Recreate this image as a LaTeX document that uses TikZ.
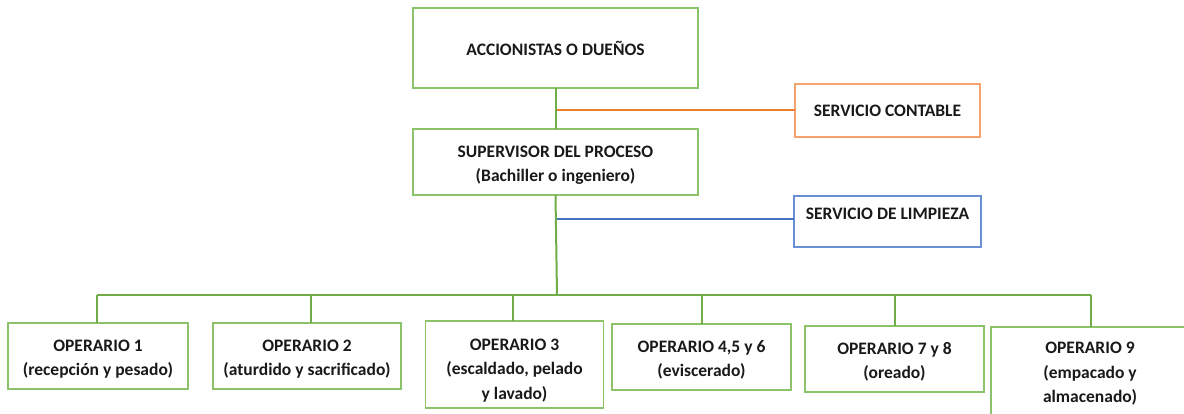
\documentclass[tikz,border=0pt]{standalone}
\usepackage{fontspec}
\setmainfont{Carlito}
\definecolor{cgreen}{HTML}{70AD47}
\definecolor{bgreen}{HTML}{8CC26A}
\definecolor{corange}{HTML}{ED7D31}
\definecolor{borange}{HTML}{F4A36E}
\definecolor{cblue}{HTML}{4472C4}
\definecolor{bblue}{HTML}{6A8FD4}
\tikzset{
  box/.style={draw=bgreen, line width=1.3pt, inner sep=0pt, outer sep=0pt},
  txt/.style={inner sep=0pt, align=center, font=\fontsize{17.5}{24.5}\selectfont\bfseries, text=black!90},
  conn/.style={draw=cgreen, line width=2pt},
}
\begin{document}
\begin{tikzpicture}[x=1pt,y=-1pt]
\useasboundingbox (0,0) rectangle (1184,414);
\clip (0,0) rectangle (1184,414);
\node[box, minimum width=285pt, minimum height=80pt, label={[txt]center:ACCIONISTAS O DUEÑOS}] (top) at (555.5,48) {};
\node[box, minimum width=285pt, minimum height=66pt, label={[txt,yshift=-3pt]center:{SUPERVISOR DEL PROCESO\\(Bachiller o ingeniero)}}] (sup) at (555.5,162) {};
\node[box, draw=borange, minimum width=185pt, minimum height=53pt, label={[txt]center:SERVICIO CONTABLE}] (cont) at (887.5,110.5) {};
\node[box, draw=bblue, minimum width=187pt, minimum height=51pt, label={[txt,yshift=8pt]center:SERVICIO DE LIMPIEZA}] (limp) at (887.5,221.5) {};
\node[box, minimum width=180pt, minimum height=66pt, label={[txt,yshift=-3pt]center:{OPERARIO 1\\(recepción y pesado)}}] (op1) at (98,356) {};
\node[box, minimum width=188pt, minimum height=66pt, label={[txt,yshift=-3pt]center:{OPERARIO 2\\(aturdido y sacrificado)}}] (op2) at (307,356) {};
\node[box, minimum width=178pt, minimum height=87pt, label={[txt,yshift=-6pt]center:{OPERARIO 3\\(escaldado, pelado\\y lavado)}}] (op3) at (514.5,364.5) {};
\node[box, minimum width=179pt, minimum height=66pt, label={[txt,yshift=-3pt]center:{OPERARIO 4,5 y 6\\(eviscerado)}}] (op4) at (701.5,357) {};
\node[box, minimum width=179pt, minimum height=66pt, label={[txt,yshift=-3pt]center:{OPERARIO 7 y 8\\(oreado)}}] (op7) at (894.5,359) {};
\node[box, minimum width=198pt, minimum height=90pt, anchor=north west, label={[txt,yshift=-2pt]center:{OPERARIO 9\\(empacado y\\almacenado)}}] (op9) at (991,327) {};
\coordinate (bus) at (557,295);
\coordinate (j1) at (557,110.5);
\coordinate (j2) at (557,219);
\draw[conn] (top.south) -- (sup.north);
\draw[conn] (sup.south) -- (bus);
\draw[line width=2pt, draw=corange] (j1) -- (cont.west);
\draw[line width=2pt, draw=cblue] (j2) -- (j2 -| limp.west);
\draw[conn] ([xshift=-1pt]op1.north |- bus) -- ([xshift=1pt]op9.north |- bus);
\draw[conn] ([xshift=-1pt]op1.north) -- ([xshift=-1pt]op1.north |- bus);
\draw[conn] ([xshift=4pt]op2.north) -- ([xshift=4pt]op2.north |- bus);
\draw[conn] ([xshift=-2pt]op3.north) -- ([xshift=-2pt]op3.north |- bus);
\draw[conn] (op4.north) -- (op4.north |- bus);
\draw[conn] (op7.north) -- (op7.north |- bus);
\draw[conn] ([xshift=1pt]op9.north) -- ([xshift=1pt]op9.north |- bus);
\end{tikzpicture}
\end{document}
